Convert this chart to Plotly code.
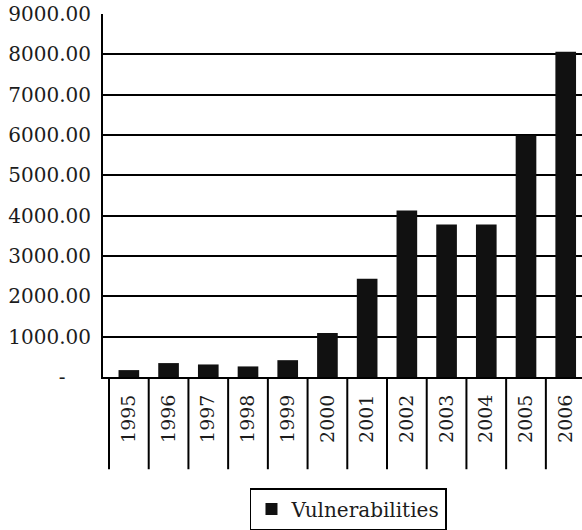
import numpy as np
import plotly.graph_objects as go

# Reported vulnerabilities per year
years = ["1995", "1996", "1997", "1998", "1999", "2000",
         "2001", "2002", "2003", "2004", "2005", "2006"]
vulnerabilities = [171, 345, 311, 262, 417, 1090,
                   2437, 4129, 3784, 3780, 5990, 8064]

y_ticks = list(range(0, 9001, 1000))
# accounting-style labels: zero shows as a dash
y_labels = ["-" + "\u00a0" * 4 if v == 0 else f"{v:.2f}" for v in y_ticks]

SERIF = "DejaVu Serif"
INK = "#1c1c1c"

fig = go.Figure()
fig.add_trace(go.Bar(
    x=years,
    y=vulnerabilities,
    name="Vulnerabilities",
    marker=dict(color="#111111", line=dict(width=0)),
    width=0.52,
))

# category separators hanging below the axis
divider_depth = 93 / 366
shapes = []
for b in np.arange(len(years) + 1) - 0.5:
    shapes.append(dict(
        type="line", xref="x", yref="paper",
        x0=b, x1=b, y0=0, y1=-divider_depth,
        line=dict(color="black", width=2),
        layer="above",
    ))

fig.update_layout(
    width=582,
    height=530,
    margin=dict(l=103, r=0, t=14, b=150),
    paper_bgcolor="white",
    plot_bgcolor="white",
    font=dict(family=SERIF, size=19, color=INK),
    shapes=shapes,
    bargap=0.48,
    showlegend=True,
    legend=dict(
        orientation="h",
        x=0.5125, xanchor="center",
        y=-0.306, yanchor="top",
        bordercolor="black", borderwidth=1.5,
        font=dict(family=SERIF, size=20, color=INK),
        bgcolor="white",
    ),
    xaxis=dict(
        type="category",
        range=[-0.651, 11.41],
        tickangle=-90,
        showline=True, linecolor="black", linewidth=2,
        showgrid=False, zeroline=False,
        ticks="",
        ticklabelstandoff=8,
        tickfont=dict(family=SERIF, size=19, color=INK),
        fixedrange=True,
    ),
    yaxis=dict(
        range=[0, 9000],
        tickmode="array",
        tickvals=y_ticks,
        ticktext=y_labels,
        showline=True, linecolor="black", linewidth=2,
        showgrid=True, gridcolor="black", gridwidth=2,
        zeroline=False,
        ticks="",
        ticklabelstandoff=6,
        tickfont=dict(family=SERIF, size=20, color=INK),
        fixedrange=True,
    ),
)

fig.write_html("out.html")
